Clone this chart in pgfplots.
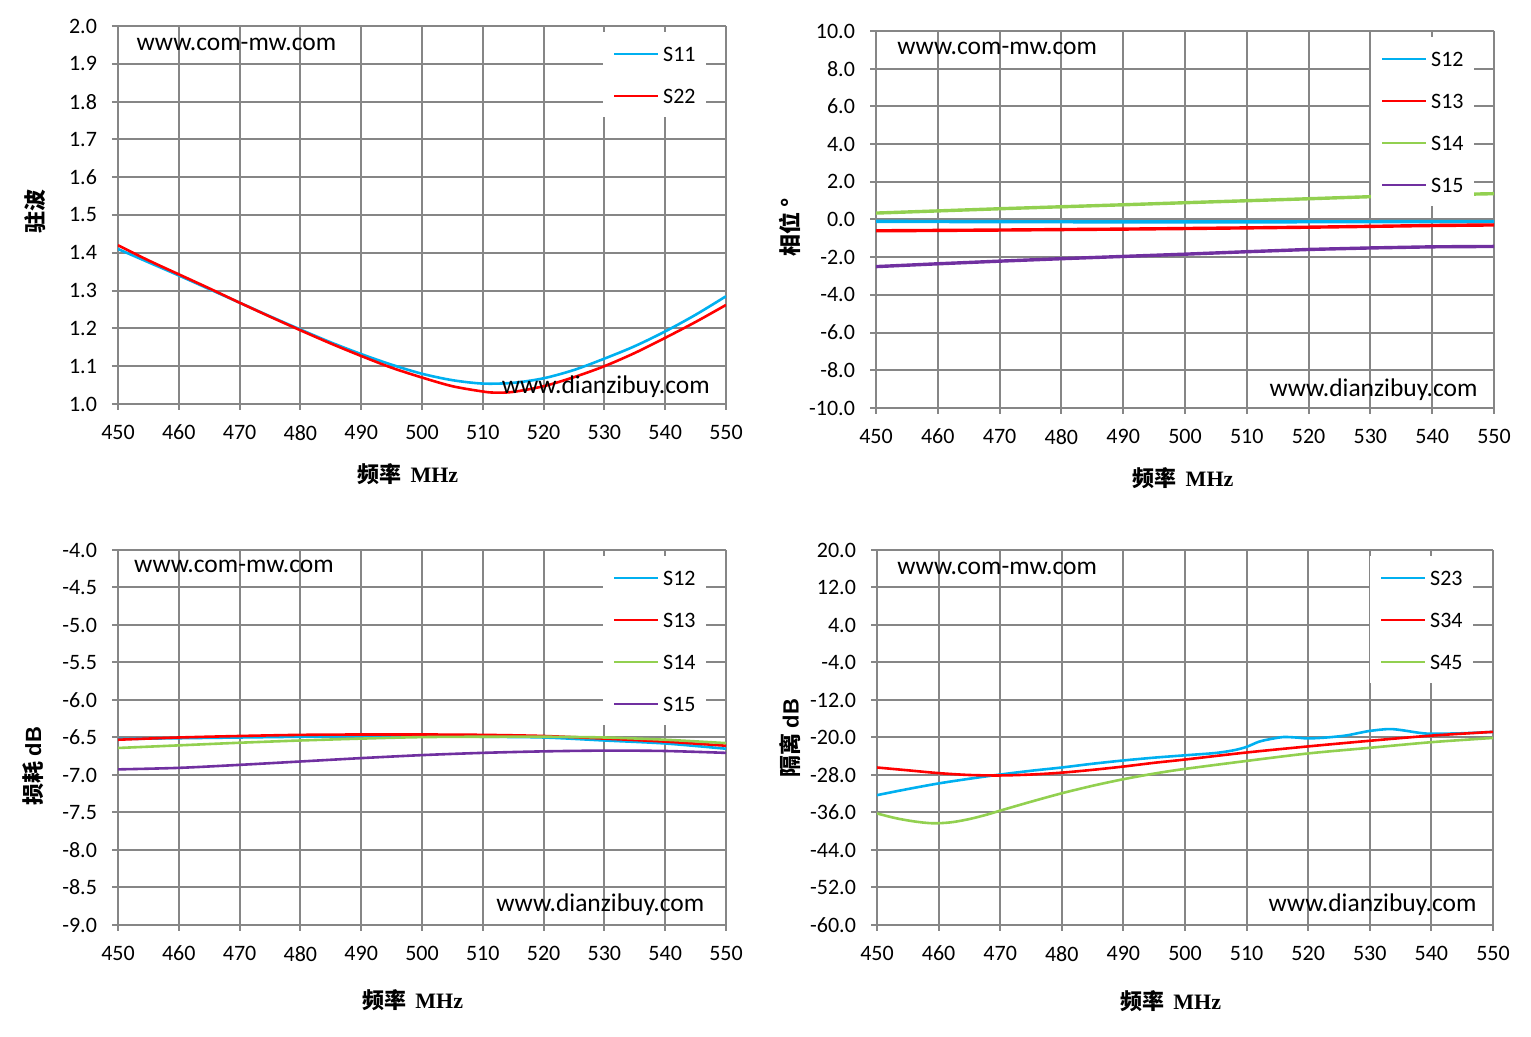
\documentclass[border=0pt]{standalone}
\usepackage{pgfplots}
\pgfplotsset{compat=1.18}
\usepackage{fontspec}
\setmainfont{Carlito}
\newfontfamily\cjk{Noto Sans CJK SC}
\newfontfamily\lsans{Liberation Sans}
\newfontfamily\lserif{Liberation Serif}
\definecolor{gridgray}{RGB}{134,134,134}
\definecolor{sblue}{RGB}{0,176,240}
\definecolor{sred}{RGB}{255,0,0}
\definecolor{sgreen}{RGB}{146,208,80}
\definecolor{spurple}{RGB}{112,48,160}
\newcommand{\xlab}{{\cjk\bfseries 频率}\hspace{0.4em}{\lserif\bfseries MHz}}
\tikzset{wm/.style={font=\fontsize{12.75}{14}\selectfont, inner sep=0pt}}
\pgfplotsset{
  mystyle/.style={
    scale only axis,
    axis lines*=left,
    axis line style={draw=gridgray, line width=1pt},
    grid=major,
    major grid style={draw=gridgray, line width=1pt},
    tick style={draw=gridgray, line width=1pt},
    tick align=outside,
    major tick length=3pt,
    xmin=450, xmax=550, xtick={450,460,...,550},
    /pgf/number format/assume math mode=true,
    tick label style={font=\fontsize{11}{13}\selectfont},
    xticklabel style={yshift=-4pt},
    yticklabel style={xshift=-4pt, /pgf/number format/.cd, fixed, fixed zerofill, precision=1},
    xlabel style={font=\fontsize{11}{13}\selectfont, anchor=center},
    ylabel style={font=\fontsize{11}{13}\selectfont, anchor=center},
    legend style={at={(rel axis cs:1,1)}, anchor=north east, xshift=-10pt, yshift=-3pt,
      fill=white, draw=none, inner xsep=5pt, inner ysep=7pt, row sep=13.5pt, column sep=2pt,
      font=\fontsize{11}{13}\selectfont,
      nodes={inner sep=0pt, text height=7.5pt, text depth=0pt}},
    legend cell align=left,
    legend image code/.code={\draw[##1, line width=1pt] (0pt,0pt) -- (22pt,0pt);},
    every axis plot/.append style={line width=1.3pt, no markers},
  },
}
\begin{document}
\begin{tikzpicture}
\useasboundingbox (0,0) rectangle (765.5pt,518.5pt);
% ---------------- top left: VSWR
\begin{axis}[mystyle, at={(59pt,316.5pt)}, anchor=south west, width=304pt, height=189pt,
  ymin=1.0, ymax=2.0, ytick={1.0,1.1,...,2.01},
  xlabel={\xlab}, xlabel style={at={(axis description cs:0.477,-0.185)}},
  ylabel={{\cjk\bfseries 驻波}}, ylabel style={at={(axis description cs:-0.1365,0.508)}}]
\addplot[sblue, smooth] coordinates {(450,1.410)(455,1.375)(460,1.340)(465,1.304)(470,1.268)(475,1.232)(480,1.197)(485,1.163)(490,1.132)(495,1.104)(500,1.080)(505,1.063)(510,1.054)(515,1.056)(520,1.068)(525,1.090)(530,1.120)(535,1.153)(540,1.192)(545,1.236)(550,1.285)};
\addplot[sred, smooth] coordinates {(450,1.420)(455,1.380)(460,1.343)(465,1.306)(470,1.268)(475,1.231)(480,1.195)(485,1.160)(490,1.127)(495,1.096)(500,1.070)(505,1.047)(510,1.033)(512,1.030)(515,1.032)(520,1.047)(525,1.071)(530,1.100)(535,1.135)(540,1.175)(545,1.217)(550,1.262)};
\legend{S11,S22}
\node[wm, anchor=west] at (axis description cs:0.03,0.952) {www.com-mw.com};
\node[wm, anchor=east] at (axis description cs:0.974,0.045) {www.dianzibuy.com};
\end{axis}
% ---------------- top right: phase
\begin{axis}[mystyle, at={(438pt,314.5pt)}, anchor=south west, width=309pt, height=188.5pt,
  ymin=-10, ymax=10, ytick={-10,-8,...,10},
  every axis plot/.append style={line width=1.7pt},
  xlabel={\xlab}, xlabel style={at={(axis description cs:0.497,-0.186)}},
  ylabel={{\cjk\bfseries 相位 °}}, ylabel style={at={(axis description cs:-0.139,0.48)}}]
\addplot[sblue] coordinates {(450,-0.10)(475,-0.12)(500,-0.13)(525,-0.12)(550,-0.11)};
\addplot[sred] coordinates {(450,-0.60)(470,-0.56)(490,-0.51)(500,-0.48)(520,-0.41)(540,-0.32)(550,-0.29)};
\addplot[sgreen] coordinates {(450,0.34)(470,0.57)(490,0.78)(500,0.89)(520,1.10)(530,1.21)(540,1.30)(550,1.37)};
\addplot[spurple] coordinates {(450,-2.50)(460,-2.35)(470,-2.21)(480,-2.08)(490,-1.96)(500,-1.84)(510,-1.71)(520,-1.59)(530,-1.51)(540,-1.45)(550,-1.43)};
\legend{S12,S13,S14,S15}
\node[wm, anchor=west] at (axis description cs:0.034,0.955) {www.com-mw.com};
\node[wm, anchor=east] at (axis description cs:0.974,0.048) {www.dianzibuy.com};
\end{axis}
% ---------------- bottom left: loss
\begin{axis}[mystyle, at={(59pt,56pt)}, anchor=south west, width=304pt, height=187.5pt,
  ymin=-9, ymax=-4, ytick={-9,-8.5,...,-3.99},
  xlabel={\xlab}, xlabel style={at={(axis description cs:0.485,-0.2)}},
  ylabel={{\cjk\bfseries 损耗} {\lsans\bfseries dB}}, ylabel style={at={(axis description cs:-0.14,0.424)}}]
\addplot[sblue, smooth] coordinates {(450,-6.52)(460,-6.51)(470,-6.50)(480,-6.49)(490,-6.48)(500,-6.48)(510,-6.49)(520,-6.50)(530,-6.54)(540,-6.58)(550,-6.65)};
\addplot[sred, smooth] coordinates {(450,-6.53)(460,-6.50)(470,-6.48)(480,-6.465)(490,-6.46)(500,-6.46)(510,-6.465)(520,-6.48)(530,-6.515)(540,-6.555)(550,-6.61)};
\addplot[sgreen, smooth] coordinates {(450,-6.64)(460,-6.605)(470,-6.57)(480,-6.54)(490,-6.515)(500,-6.495)(510,-6.49)(520,-6.49)(530,-6.50)(540,-6.53)(550,-6.575)};
\addplot[spurple, smooth] coordinates {(450,-6.925)(460,-6.905)(470,-6.865)(480,-6.82)(490,-6.775)(500,-6.735)(510,-6.705)(520,-6.685)(530,-6.675)(540,-6.68)(550,-6.705)};
\legend{S12,S13,S14,S15}
\node[wm, anchor=west] at (axis description cs:0.026,0.955) {www.com-mw.com};
\node[wm, anchor=east] at (axis description cs:0.965,0.053) {www.dianzibuy.com};
\end{axis}
% ---------------- bottom right: isolation
\begin{axis}[mystyle, at={(438.5pt,56pt)}, anchor=south west, width=308pt, height=187.5pt,
  ymin=-60, ymax=20, ytick={-60,-52,...,20},
  xlabel={\xlab}, xlabel style={at={(axis description cs:0.477,-0.203)}},
  ylabel={{\cjk\bfseries 隔离} {\lsans\bfseries dB}}, ylabel style={at={(axis description cs:-0.141,0.499)}}]
\addplot[sblue, smooth] coordinates {(450,-32.3)(455,-31.0)(460,-29.8)(465,-28.8)(470,-27.9)(475,-27.1)(480,-26.4)(485,-25.6)(490,-24.9)(495,-24.3)(500,-23.8)(505,-23.3)(508,-22.7)(510,-22.0)(512,-20.9)(514,-20.3)(516,-19.9)(518,-20.0)(520,-20.2)(523,-20.0)(526,-19.6)(528,-19.1)(530,-18.6)(533,-18.2)(535,-18.4)(538,-19.0)(540,-19.2)(545,-19.1)(550,-18.8)};
\addplot[sred, smooth] coordinates {(450,-26.4)(455,-27.0)(460,-27.6)(465,-28.0)(470,-28.1)(475,-27.9)(480,-27.5)(485,-26.9)(490,-26.2)(495,-25.4)(500,-24.7)(510,-23.2)(520,-21.9)(530,-20.7)(540,-19.6)(550,-18.8)};
\addplot[sgreen, smooth] coordinates {(450,-36.2)(453,-37.2)(456,-37.9)(459,-38.3)(462,-38.1)(465,-37.4)(468,-36.4)(470,-35.6)(475,-33.7)(480,-31.9)(485,-30.3)(490,-28.9)(495,-27.7)(500,-26.7)(510,-25.0)(520,-23.4)(530,-22.2)(540,-21.0)(550,-20.1)};
\legend{S23,S34,S45}
\node[wm, anchor=west] at (axis description cs:0.0325,0.952) {www.com-mw.com};
\node[wm, anchor=east] at (axis description cs:0.974,0.053) {www.dianzibuy.com};
\end{axis}
\end{tikzpicture}
\end{document}
